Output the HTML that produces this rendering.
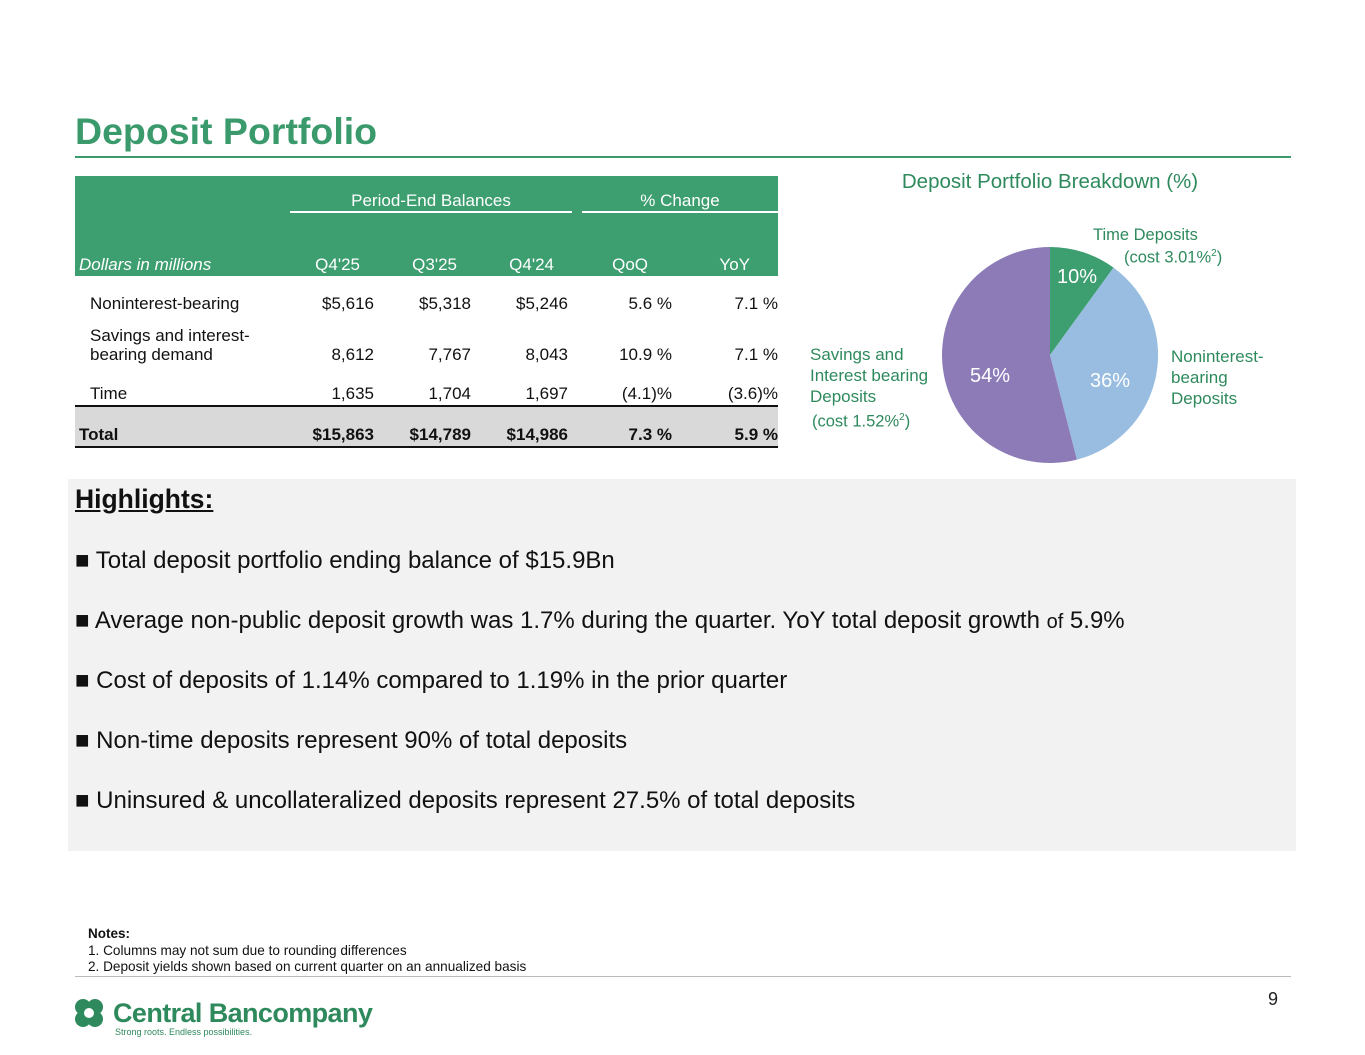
<!DOCTYPE html>
<html><head><meta charset="utf-8"><style>
body{margin:0;width:1365px;height:1055px;background:#fff;position:relative;overflow:hidden;font-family:"Liberation Sans",Arial,sans-serif}
.a{position:absolute;line-height:1;white-space:nowrap}
.r{text-align:right}
.c{text-align:center}
.t{font-size:17px;color:#111}
.h{font-size:17px;color:#fff}
.g{color:#2e8a5c}
.b{font-size:24px;color:#111}
</style></head><body>
<div class="a" style="left:75px;top:113px;font-size:37.5px;font-weight:bold;color:#3a9a6c">Deposit Portfolio</div>
<div class="a" style="left:75px;top:156px;width:1216px;height:2px;background:#3a9a6c"></div>

<div class="a" style="left:75px;top:176px;width:703px;height:100px;background:#3d9e70"></div>
<div class="a" style="left:290px;top:211px;width:282px;height:2px;background:#fff"></div>
<div class="a" style="left:582px;top:211px;width:196px;height:2px;background:#fff"></div>
<div class="a h c" style="left:290px;width:282px;top:192px">Period-End Balances</div>
<div class="a h c" style="left:582px;width:196px;top:192px">% Change</div>
<div class="a h" style="left:79px;top:256px;font-style:italic">Dollars in millions</div>
<div class="a h r" style="left:260px;width:100px;top:256px">Q4'25</div>
<div class="a h r" style="left:357px;width:100px;top:256px">Q3'25</div>
<div class="a h r" style="left:454px;width:100px;top:256px">Q4'24</div>
<div class="a h r" style="left:548px;width:100px;top:256px">QoQ</div>
<div class="a h r" style="left:650px;width:100px;top:256px">YoY</div>

<div class="a t" style="left:90px;top:295px">Noninterest-bearing</div>
<div class="a t r" style="left:274px;width:100px;top:295px">$5,616</div>
<div class="a t r" style="left:371px;width:100px;top:295px">$5,318</div>
<div class="a t r" style="left:468px;width:100px;top:295px">$5,246</div>
<div class="a t r" style="left:572px;width:100px;top:295px">5.6 %</div>
<div class="a t r" style="left:678px;width:100px;top:295px">7.1 %</div>

<div class="a t" style="left:90px;top:327px">Savings and interest-</div>
<div class="a t" style="left:90px;top:346px">bearing demand</div>
<div class="a t r" style="left:274px;width:100px;top:346px">8,612</div>
<div class="a t r" style="left:371px;width:100px;top:346px">7,767</div>
<div class="a t r" style="left:468px;width:100px;top:346px">8,043</div>
<div class="a t r" style="left:572px;width:100px;top:346px">10.9 %</div>
<div class="a t r" style="left:678px;width:100px;top:346px">7.1 %</div>

<div class="a t" style="left:90px;top:385px">Time</div>
<div class="a t r" style="left:274px;width:100px;top:385px">1,635</div>
<div class="a t r" style="left:371px;width:100px;top:385px">1,704</div>
<div class="a t r" style="left:468px;width:100px;top:385px">1,697</div>
<div class="a t r" style="left:572px;width:100px;top:385px">(4.1)%</div>
<div class="a t r" style="left:678px;width:100px;top:385px">(3.6)%</div>

<div class="a" style="left:75px;top:407px;width:703px;height:40px;background:#d9d9d9"></div>
<div class="a" style="left:75px;top:405px;width:703px;height:2px;background:#111"></div>
<div class="a" style="left:75px;top:446px;width:703px;height:2px;background:#111"></div>
<div class="a t" style="left:79px;top:426px;font-weight:bold">Total</div>
<div class="a t r" style="left:274px;width:100px;top:426px;font-weight:bold">$15,863</div>
<div class="a t r" style="left:371px;width:100px;top:426px;font-weight:bold">$14,789</div>
<div class="a t r" style="left:468px;width:100px;top:426px;font-weight:bold">$14,986</div>
<div class="a t r" style="left:572px;width:100px;top:426px;font-weight:bold">7.3 %</div>
<div class="a t r" style="left:678px;width:100px;top:426px;font-weight:bold">5.9 %</div>

<div class="a g c" style="left:850px;width:400px;top:172px;font-size:20.5px">Deposit Portfolio Breakdown (%)</div>
<svg class="a" style="left:0;top:0" width="1365" height="1055">
<path d="M1050,355 L1050,247 A108,108 0 0 1 1113.5,267.6 Z" fill="#3d9e70"/>
<path d="M1050,355 L1113.5,267.6 A108,108 0 0 1 1076.9,459.6 Z" fill="#98bde0"/>
<path d="M1050,355 L1076.9,459.6 A108,108 0 1 1 1050,247 Z" fill="#8d7bb8"/>
<g fill="#fff" font-family="Liberation Sans,Arial,sans-serif" font-size="20">
<text x="1057" y="283">10%</text>
<text x="970" y="382">54%</text>
<text x="1090" y="387">36%</text>
</g>
</svg>
<div class="a g" style="left:1093px;top:227px;font-size:16.5px">Time Deposits</div>
<div class="a g" style="left:1124px;top:249px;font-size:16.5px">(cost 3.01%<sup style="font-size:10px">2</sup>)</div>
<div class="a g" style="left:1171px;top:346px;font-size:17px;line-height:21px">Noninterest-<br>bearing<br>Deposits</div>
<div class="a g" style="left:810px;top:344px;font-size:17px;line-height:21px">Savings and<br>Interest bearing<br>Deposits</div>
<div class="a g" style="left:812px;top:413px;font-size:16.5px">(cost 1.52%<sup style="font-size:10px">2</sup>)</div>

<div class="a" style="left:68px;top:479px;width:1228px;height:372px;background:#f2f2f2"></div>
<div class="a" style="left:75px;top:486px;font-size:26.5px;font-weight:bold;text-decoration:underline;color:#111">Highlights:</div>
<div class="a b" style="left:75px;top:549px">■ Total deposit portfolio ending balance of $15.9Bn</div>
<div class="a b" style="left:75px;top:609px">■ Average non-public deposit growth was 1.7% during the quarter. YoY total deposit growth <span style="font-size:20px">of</span> 5.9%</div>
<div class="a b" style="left:75px;top:669px">■ Cost of deposits of 1.14% compared to 1.19% in the prior quarter</div>
<div class="a b" style="left:75px;top:729px">■ Non-time deposits represent 90% of total deposits</div>
<div class="a b" style="left:75px;top:789px">■ Uninsured &amp; uncollateralized deposits represent 27.5% of total deposits</div>

<div class="a" style="left:88px;top:927px;font-size:13.5px;font-weight:bold;color:#111">Notes:</div>
<div class="a" style="left:88px;top:944px;font-size:13.6px;color:#111">1. Columns may not sum due to rounding differences</div>
<div class="a" style="left:88px;top:960px;font-size:13.6px;color:#111">2. Deposit yields shown based on current quarter on an annualized basis</div>
<div class="a" style="left:75px;top:976px;width:1216px;height:1px;background:#bbb"></div>
<div class="a" style="left:1268px;top:990px;font-size:18px;color:#222">9</div>

<svg class="a" style="left:73px;top:997px" width="36" height="36">
<g fill="#2e8a5c"><circle cx="10" cy="10" r="8"/><circle cx="22" cy="10" r="8"/><circle cx="10" cy="22" r="8"/><circle cx="22" cy="22" r="8"/></g>
<circle cx="16" cy="16" r="5" fill="#fff"/>
</svg>
<div class="a" style="left:113px;top:1000px;font-size:27px;font-weight:bold;color:#2e8a5c;letter-spacing:-0.6px">Central Bancompany</div>
<div class="a" style="left:115px;top:1028px;font-size:9px;color:#2e8a5c">Strong roots. Endless possibilities.</div>
</body></html>
